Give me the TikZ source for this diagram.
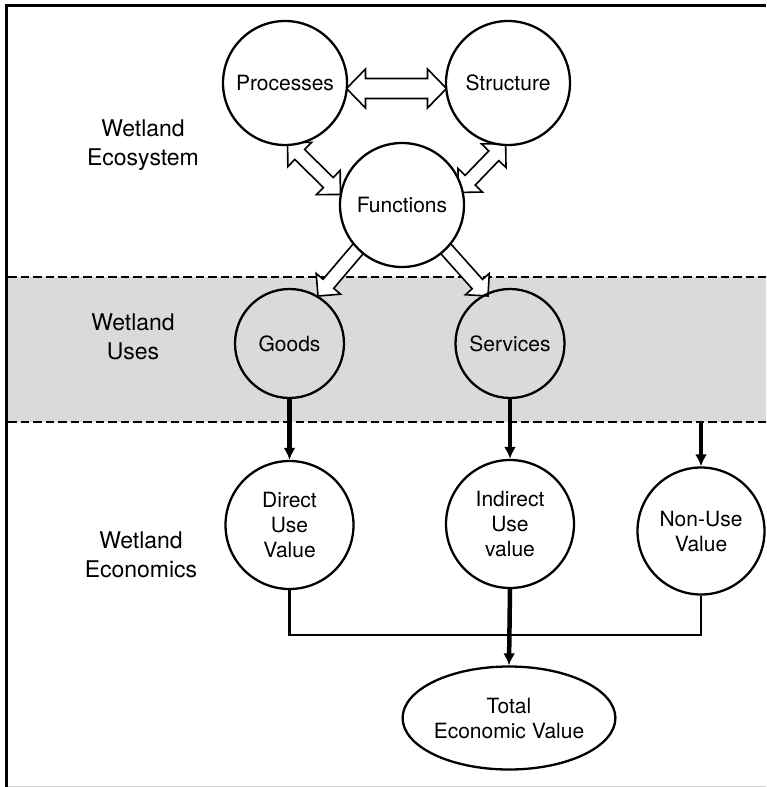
\documentclass[tikz,border=0pt]{standalone}
\usepackage{fontspec}
\setmainfont{TeX Gyre Heros}
\usetikzlibrary{shapes.geometric,arrows.meta}
\definecolor{bandgray}{HTML}{D9DADC}
\definecolor{rulegray}{HTML}{D0D0D0}
% hollow double arrow: center, angle, half length, shaft half width, head half width, head length
\newcommand\hollowdbl[6]{%
  \begin{scope}[shift={#1},rotate=#2]
    \draw[hollow] (-#3,0) -- (-#3+#6,#5) -- (-#3+#6,#4) -- (#3-#6,#4) -- (#3-#6,#5) -- (#3,0)
      -- (#3-#6,-#5) -- (#3-#6,-#4) -- (-#3+#6,-#4) -- (-#3+#6,-#5) -- cycle;
  \end{scope}}
% hollow single arrow: tip, angle, length, shaft half width, head half width, head length
\newcommand\hollowsgl[6]{%
  \begin{scope}[shift={#1},rotate=#2]
    \draw[hollow] (0,0) -- (-#6,#5) -- (-#6,#4) -- (-#3,#4) -- (-#3,-#4) -- (-#6,-#4) -- (-#6,-#5) -- cycle;
  \end{scope}}
\begin{document}
\begin{tikzpicture}[x=1pt,y=-1pt,
  circ/.style={circle,draw,line width=2.3pt,inner sep=0pt,align=center,font=\fontsize{21}{25}\selectfont},
  lab/.style={align=center,font=\fontsize{23}{29}\selectfont},
  dashline/.style={line width=2.5pt,dash pattern=on 8.5pt off 4pt},
  thickarrow/.style={line width=4.5pt,-{Latex[length=12pt,width=12pt]}},
  bracket/.style={line width=2.5pt},
  hollow/.style={draw,fill=white,line width=1.6pt,line join=miter},
]
\useasboundingbox (0,0) rectangle (766,787);
% band
\fill[bandgray] (8,277) rectangle (766,422);
\draw[dashline] (8,277) -- (766,277);
\draw[dashline] (8,422) -- (766,422);
% frame
\draw[line width=3pt] (6,787) -- (6,5.5) -- (766,5.5);
\draw[line width=1pt,rulegray] (8,786) -- (766,786);

% labels
\node[lab] (l1) at (143,145) {Wetland\\Ecosystem};
\node[lab] (l2) at (133,337) {Wetland\\Uses};
\node[lab] (l3) at (141,555) {Wetland\\Economics};

% hollow arrows (drawn below the circles)
\hollowdbl{(396.5,88.5)}{0}{50}{10}{19.5}{19}
\hollowdbl{(314,168.5)}{-44.5}{37}{7}{17}{17}
\hollowdbl{(482,168)}{46}{34}{7}{17}{17}
\hollowsgl{(318,296)}{-130.4}{67}{7}{16}{16}
\hollowsgl{(488,296)}{-48.2}{68}{7}{16}{16}

% nodes
\node[circ,fill=white,minimum size=124pt] (P) at (285,83) {Processes};
\node[circ,fill=white,minimum size=124pt] (S) at (508,83) {Structure};
\node[circ,fill=white,minimum size=124pt] (F) at (402,205) {Functions};
\node[circ,minimum size=109pt] (G) at (289.5,343.5) {Goods};
\node[circ,minimum size=109pt] (V) at (510,343.5) {Services};
\node[circ,fill=white,minimum size=128pt] (D) at (289.5,525) {Direct\\Use\\Value};
\node[circ,fill=white,minimum size=128pt] (I) at (510,524) {Indirect\\Use\\value};
\node[circ,fill=white,minimum size=127pt] (N) at (701,531) {Non-Use\\Value};
\node[ellipse,draw,fill=white,line width=2.3pt,minimum width=211pt,minimum height=103pt,inner sep=0pt,align=center,font=\fontsize{21}{25}\selectfont] (T) at (509,718) {Total\\Economic Value};

% solid arrows
\coordinate (nu) at (701,422);
\coordinate (bar) at (0,635);
\draw[bracket] (D.south) -- (D.south |- bar) -| (N.south);
\draw[thickarrow] (G.south) -- (D.north);
\draw[thickarrow] (V.south) -- (I.north);
\draw[thickarrow] (nu) -- (N.north);
\draw[thickarrow] (I.south) -- (T.north);
\end{tikzpicture}
\end{document}
